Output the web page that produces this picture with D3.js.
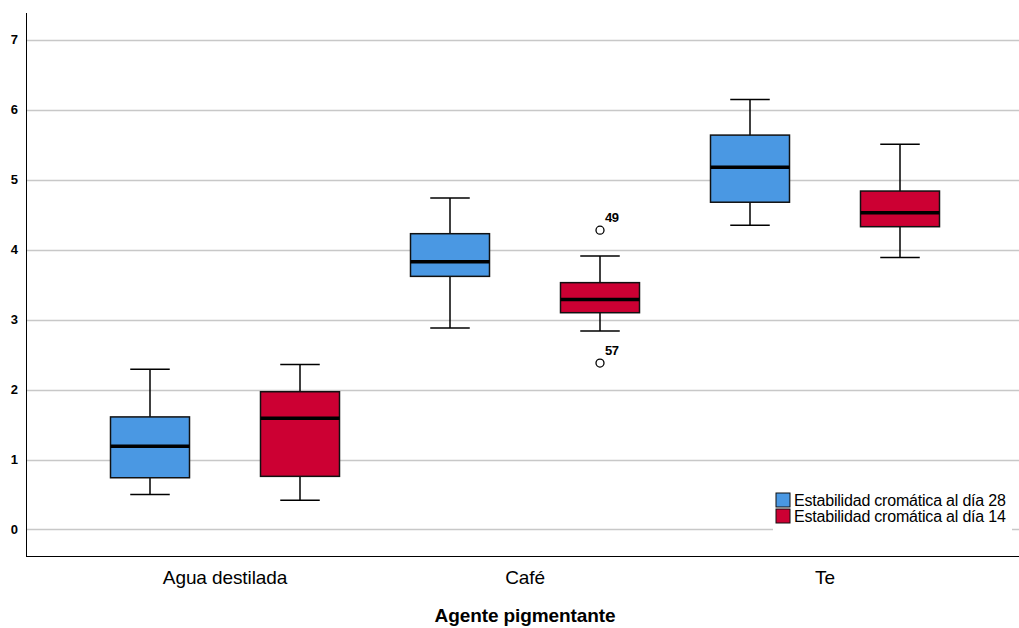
<!DOCTYPE html>
<html>
<head>
<meta charset="utf-8">
<script src="https://cdn.jsdelivr.net/npm/d3@7"></script>
<style>
  body { margin: 0; background: #fff; }
  text { font-family: "Liberation Sans", Arial, sans-serif; }
</style>
</head>
<body>
<div id="main"></div>
<script>
var width = 1019,
    height = 628;

// data
var categories = ["Agua destilada", "Café", "Te"];
var series = ["Estabilidad cromática al día 28", "Estabilidad cromática al día 14"];
var colors = ["#4a98e3", "#cc0033"];

// [min, q1, median, q3, max] per category, one list per series
var day28 = [
    [0.50, 0.74, 1.19, 1.61, 2.29],
    [2.88, 3.62, 3.83, 4.23, 4.74],
    [4.35, 4.68, 5.18, 5.64, 6.15]
];
var day14 = [
    [0.42, 0.76, 1.59, 1.97, 2.36],
    [2.84, 3.10, 3.29, 3.53, 3.91],
    [3.89, 4.33, 4.53, 4.84, 5.51]
];

// outliers: category, series index, value, case label
var outliers = [
    { cat: "Café", s: 1, v: 4.28, id: "49" },
    { cat: "Café", s: 1, v: 2.38, id: "57" }
];

var yTicks = [0, 1, 2, 3, 4, 5, 6, 7];
var xTitle = "Agente pigmentante";

var svg = d3.select("#main").append("svg")
    .attr("width", width)
    .attr("height", height);

var plotLeft = 26, plotTop = 13, plotBottom = 556, plotRight = width;

var y = d3.scaleLinear()
    .domain([-0.379, 7.386])
    .range([plotBottom, plotTop]);

var x = d3.scaleBand()
    .domain(categories)
    .range([75, 975]);

var xs = d3.scaleBand()
    .domain([0, 1])
    .range([0, x.bandwidth()]);

var boxW = 79;

// grid
svg.append("g").selectAll("line")
    .data(yTicks)
    .enter().append("line")
    .attr("x1", plotLeft).attr("x2", plotRight)
    .attr("y1", function(d) { return Math.round(y(d)) + 0.5; })
    .attr("y2", function(d) { return Math.round(y(d)) + 0.5; })
    .attr("stroke", "#c8c8c8")
    .attr("stroke-width", 1.5);

// y tick labels
svg.append("g").selectAll("text")
    .data(yTicks)
    .enter().append("text")
    .attr("x", 18)
    .attr("y", function(d) { return y(d) + 4.5; })
    .attr("text-anchor", "end")
    .attr("font-size", 13)
    .attr("font-weight", "bold")
    .text(function(d) { return d; });

// axes lines
svg.append("line")
    .attr("x1", plotLeft + 0.5).attr("x2", plotLeft + 0.5)
    .attr("y1", plotTop).attr("y2", plotBottom)
    .attr("stroke", "#000").attr("stroke-width", 1);
svg.append("line")
    .attr("x1", plotLeft).attr("x2", plotRight)
    .attr("y1", plotBottom + 0.5).attr("y2", plotBottom + 0.5)
    .attr("stroke", "#000").attr("stroke-width", 1);

// boxes
var boxes = [];
categories.forEach(function(c, i) {
    boxes.push({ cat: c, s: 0, q: day28[i] });
    boxes.push({ cat: c, s: 1, q: day14[i] });
});

function cx(cat, s) {
    return x(cat) + xs(s) + xs.bandwidth() / 2;
}

var g = svg.append("g").selectAll("g")
    .data(boxes)
    .enter().append("g")
    .attr("transform", function(d) { return "translate(" + cx(d.cat, d.s) + ",0)"; });

g.append("line")
    .attr("x1", 0).attr("x2", 0)
    .attr("y1", function(d) { return y(d.q[4]); })
    .attr("y2", function(d) { return y(d.q[0]); })
    .attr("stroke", "#000").attr("stroke-width", 1.5);

g.selectAll(".cap")
    .data(function(d) { return [d.q[0], d.q[4]]; })
    .enter().append("line")
    .attr("class", "cap")
    .attr("x1", -boxW / 4).attr("x2", boxW / 4)
    .attr("y1", function(v) { return y(v); })
    .attr("y2", function(v) { return y(v); })
    .attr("stroke", "#000").attr("stroke-width", 1.5);

g.append("rect")
    .attr("x", -boxW / 2)
    .attr("width", boxW)
    .attr("y", function(d) { return y(d.q[3]); })
    .attr("height", function(d) { return y(d.q[1]) - y(d.q[3]); })
    .attr("fill", function(d) { return colors[d.s]; })
    .attr("stroke", "#111").attr("stroke-width", 1.5);

g.append("line")
    .attr("x1", -boxW / 2).attr("x2", boxW / 2)
    .attr("y1", function(d) { return y(d.q[2]); })
    .attr("y2", function(d) { return y(d.q[2]); })
    .attr("stroke", "#000").attr("stroke-width", 3.5);

// outliers
var o = svg.append("g").selectAll("g")
    .data(outliers)
    .enter().append("g")
    .attr("transform", function(d) { return "translate(" + cx(d.cat, d.s) + "," + y(d.v) + ")"; });
o.append("circle")
    .attr("r", 4)
    .attr("fill", "#fff")
    .attr("stroke", "#000").attr("stroke-width", 1.3);
o.append("text")
    .attr("x", 5).attr("y", -8)
    .attr("font-size", 13)
    .attr("font-weight", "bold")
    .attr("letter-spacing", -0.5)
    .text(function(d) { return d.id; });

// category labels
svg.append("g").selectAll("text")
    .data(categories)
    .enter().append("text")
    .attr("x", function(d) { return x(d) + x.bandwidth() / 2; })
    .attr("y", 584)
    .attr("text-anchor", "middle")
    .attr("font-size", 19)
    .attr("letter-spacing", -0.1)
    .text(function(d) { return d; });

svg.append("text")
    .attr("x", 525)
    .attr("y", 622)
    .attr("text-anchor", "middle")
    .attr("font-size", 19)
    .attr("font-weight", "bold")
    .attr("letter-spacing", -0.1)
    .text(xTitle);

// legend
var lg = svg.append("g").attr("transform", "translate(773,488)");
lg.append("rect")
    .attr("x", 0).attr("y", 0)
    .attr("width", 239).attr("height", 47)
    .attr("fill", "#fff");
var li = lg.selectAll(".item")
    .data(series)
    .enter().append("g")
    .attr("class", "item")
    .attr("transform", function(d, i) { return "translate(3," + (5 + i * 16) + ")"; });
li.append("rect")
    .attr("width", 14).attr("height", 14)
    .attr("fill", function(d, i) { return colors[i]; })
    .attr("stroke", "#111").attr("stroke-width", 1);
li.append("text")
    .attr("x", 18).attr("y", 13)
    .attr("font-size", 16)
    .attr("letter-spacing", -0.2)
    .text(function(d) { return d; });
</script>
</body>
</html>
